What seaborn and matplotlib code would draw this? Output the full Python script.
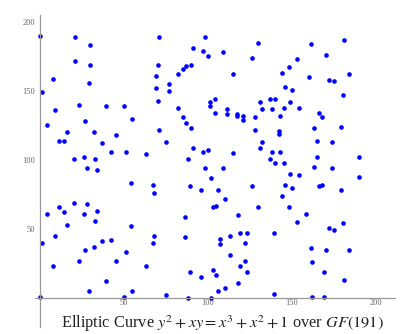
import matplotlib
matplotlib.use("Agg")
import matplotlib.pyplot as plt
import seaborn as sns
from matplotlib.ticker import MultipleLocator, FixedLocator

# points
xs = [0, 21, 30, 21, 30, 8, 29, 1, 23, 39, 50,
      9, 4, 27, 16, 32, 45, 11, 14, 37, 42, 51, 26, 20, 33, 28, 34, 20, 28, 11,
      4, 14, 26, 34, 33, 16, 9, 1, 37, 42, 32, 27, 51, 23, 45, 8, 39, 29, 0, 50,
      71, 98, 91, 97, 100, 70, 90, 87, 85, 69, 82, 77, 69, 77, 70, 82, 101, 104, 101,
      55, 85, 87, 90, 104, 71, 75, 91, 97, 100, 63, 88, 98, 102, 54, 67, 68, 89, 96, 103,
      86, 54, 68, 67, 86, 63, 89, 96, 103, 55, 75, 88, 102,
      130, 109, 126, 153, 115, 148, 144, 146, 150, 131, 137, 140, 149, 111, 132, 138, 145, 154,
      111, 117, 117, 121, 121, 128, 143, 128, 142, 142, 132, 131, 115, 138, 143, 137, 140, 145,
      109, 149, 154, 146, 150, 126, 106, 144, 110, 105, 130, 148,
      118, 153, 107, 107, 113, 119, 122, 123, 139, 113, 122, 119, 123, 105, 118, 110, 106, 139,
      181, 161, 170, 160, 184, 172, 175, 180,
      166, 168, 163, 179, 165, 174, 165, 190, 163, 174, 190, 166, 168, 179,
      158, 172, 175, 180, 161, 170, 184, 162, 169, 181, 162, 169]
ys = [190, 189, 183, 172, 169, 159, 156, 149, 140, 139, 139,
      136, 125, 128, 120, 120, 118, 114, 114, 112, 106, 106, 102, 101, 101, 94, 93, 69, 68, 66,
      61, 62, 61, 63, 56, 53, 45, 40, 41, 42, 37, 35, 33, 27, 27, 23, 12, 5, 1, 1,
      189, 189, 181, 179, 175, 169, 169, 168, 166, 161, 162, 155, 152, 150, 143, 138, 142, 144, 139,
      130, 131, 127, 123, 134, 122, 113, 109, 106, 107, 104, 101, 94, 87, 83, 82, 76, 81, 78, 66,
      59, 52, 45, 40, 44, 23, 19, 15, 20, 5, 2, 0, 0,
      185, 178, 174, 173, 162, 167, 163, 153, 151, 142, 144, 144, 142, 137, 137, 137, 138, 138,
      133, 133, 132, 132, 129, 131, 132, 122, 121, 119, 113, 109, 105, 106, 106, 101, 98, 98,
      94, 90, 89, 82, 80, 81, 78, 74, 72, 67, 66, 66,
      60, 55, 43, 39, 45, 47, 40, 47, 47, 31, 27, 23, 19, 17, 11, 7, 5, 3,
      187, 184, 176, 160, 162, 158, 157, 147,
      134, 131, 123, 124, 114, 113, 102, 102, 95, 94, 88, 81, 82, 78,
      61, 51, 49, 54, 36, 35, 35, 26, 19, 13, 1, 1]

sns.set_style("white")
plt.rcParams["font.family"] = ["Liberation Serif", "DejaVu Sans"]
plt.rcParams["mathtext.fontset"] = "stix"

fig = plt.figure(figsize=(4, 3.34), dpi=100)
ax = fig.add_axes([0.0875, 0.021, 0.899, 0.934])

sns.scatterplot(x=xs, y=ys, color="#0000ff", s=11, linewidth=0, ax=ax)

ax.set_xlim(-3, 211)
ax.set_ylim(-21, 205)

# axes crossing at the origin, Mathematica style
for side in ["top", "right"]:
    ax.spines[side].set_visible(False)
for side in ["left", "bottom"]:
    ax.spines[side].set_position(("data", 0))
    ax.spines[side].set_color("#999999")
    ax.spines[side].set_linewidth(0.9)

ax.xaxis.set_major_locator(FixedLocator([50, 100, 150, 200]))
ax.yaxis.set_major_locator(FixedLocator([50, 100, 150, 200]))
ax.xaxis.set_minor_locator(MultipleLocator(10))
ax.yaxis.set_minor_locator(MultipleLocator(10))
ax.tick_params(which="major", direction="inout", length=5, width=0.8, color="#999999",
               labelsize=6, labelcolor="#666666", pad=1)
ax.tick_params(axis="x", which="major", direction="in", length=3.5, pad=0.8)
ax.tick_params(which="minor", direction="in", length=2.5, width=0.6, color="#999999")
ax.set_xlabel("")
ax.set_ylabel("")

fig.text(0.555, 0.018, r"Elliptic Curve $y^2+xy=x^3+x^2+1$ over $GF(191)$",
         ha="center", va="baseline", fontsize=11.8, color="#222222")

fig.savefig("out.png", dpi=100)
